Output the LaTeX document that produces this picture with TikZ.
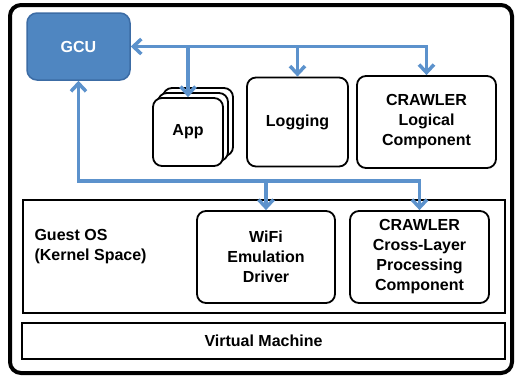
\documentclass[tikz,border=0pt]{standalone}
\usepackage{fontspec}
\setmainfont{Liberation Sans}
\usetikzlibrary{arrows.meta,calc}
\definecolor{gcublue}{RGB}{79,134,193}
\definecolor{gcuedge}{RGB}{60,108,165}
\definecolor{busblue}{RGB}{92,146,204}
\begin{document}
\begin{tikzpicture}[x=1pt,y=-1pt,
  txt/.style={font=\fontsize{16}{20}\selectfont\bfseries, align=center},
  box/.style={txt, draw=black, line width=1.8pt, rounded corners=9pt, fill=white, inner sep=0pt},
  layer/.style={txt, draw=black, line width=1.8pt, fill=white, inner sep=0pt},
  bus/.style={draw=busblue, line width=3.5pt},
  tip/.tip={Straight Barb[length=8pt,width=15pt]}]
\useasboundingbox (0,0) rectangle (518,378);
\draw[line width=4pt, rounded corners=11pt] (10,5) rectangle (512,373);
% GCU
\node[txt, draw=gcuedge, fill=gcublue, text=white, line width=1.5pt, rounded corners=10pt,
      minimum width=103pt, minimum height=67pt] (gcu) at (78.5,46.5) {GCU};
% App stack
\node[box, minimum width=70pt, minimum height=68pt] (app3) at (198,122) {};
\node[box, minimum width=70pt, minimum height=68pt] (app2) at (193,127) {};
\node[box, minimum width=70pt, minimum height=68pt] (app) at (188,132) {App};
\node[box, minimum width=101pt, minimum height=89pt] (log) at (297.5,122) {Logging};
\node[box, minimum width=139pt, minimum height=92pt] (cl) at (426.5,122) {CRAWLER\\Logical\\Component};
% Layers
\node[layer, minimum width=482pt, minimum height=113pt] (guest) at (264,256.5) {};
\node[txt, align=left, anchor=west] (guestlbl) at (31,247) {Guest OS\\(Kernel Space)};
\node[layer, minimum width=483pt, minimum height=36pt] (vm) at (263.5,341) {Virtual Machine};
\node[box, minimum width=138pt, minimum height=92pt] (wifi) at (266,257) {WiFi\\Emulation\\Driver};
\node[box, minimum width=139pt, minimum height=92pt] (cc) at (419.5,257) {CRAWLER\\Cross-Layer\\Processing\\Component};
% Buses
\coordinate (b2) at (0,181);
\draw[bus, tip-tip] (gcu.east) -| (cl.north);
\draw[bus, -tip] (app.north |- gcu.east) -- (app.north);
\draw[bus, -tip] (log.north |- gcu.east) -- (log.north);
\draw[bus, tip-tip] (gcu.south) -- (gcu.south |- b2) -| (cc.north);
\draw[bus, -tip] (wifi.north |- b2) -- (wifi.north);
\end{tikzpicture}
\end{document}
